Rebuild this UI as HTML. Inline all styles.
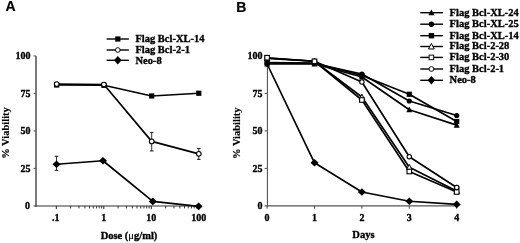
<!DOCTYPE html>
<html><head><meta charset="utf-8"><style>
html,body{margin:0;padding:0;background:#fff;}
svg{display:block;will-change:transform;}
text{font-family:"Liberation Serif",serif;font-weight:bold;fill:#000;stroke:#000;stroke-width:0.35px;}
.yl{stroke-width:0.15px;}
.sans{font-family:"Liberation Sans",sans-serif;stroke-width:0.2px;}
</style></head><body>
<svg width="520" height="243" viewBox="0 0 520 243">

<line x1="36.00" y1="55.90" x2="36.00" y2="206.80" stroke="#333" stroke-width="1.3"/>
<line x1="33.50" y1="206.00" x2="199.30" y2="206.00" stroke="#333" stroke-width="1.2"/>
<line x1="33.50" y1="55.90" x2="36.00" y2="55.90" stroke="#555" stroke-width="1.0"/>
<line x1="33.50" y1="93.40" x2="36.00" y2="93.40" stroke="#555" stroke-width="1.0"/>
<line x1="33.50" y1="130.90" x2="36.00" y2="130.90" stroke="#555" stroke-width="1.0"/>
<line x1="33.50" y1="168.40" x2="36.00" y2="168.40" stroke="#555" stroke-width="1.0"/>
<line x1="56.30" y1="205.90" x2="56.30" y2="209.10" stroke="#222" stroke-width="1.0"/>
<line x1="70.60" y1="205.90" x2="70.60" y2="208.40" stroke="#333" stroke-width="1.0"/>
<line x1="78.96" y1="205.90" x2="78.96" y2="208.40" stroke="#333" stroke-width="1.0"/>
<line x1="84.90" y1="205.90" x2="84.90" y2="208.40" stroke="#333" stroke-width="1.0"/>
<line x1="89.50" y1="205.90" x2="89.50" y2="208.40" stroke="#333" stroke-width="1.0"/>
<line x1="93.26" y1="205.90" x2="93.26" y2="208.40" stroke="#333" stroke-width="1.0"/>
<line x1="96.44" y1="205.90" x2="96.44" y2="208.40" stroke="#333" stroke-width="1.0"/>
<line x1="99.20" y1="205.90" x2="99.20" y2="208.40" stroke="#333" stroke-width="1.0"/>
<line x1="101.63" y1="205.90" x2="101.63" y2="208.40" stroke="#333" stroke-width="1.0"/>
<line x1="103.80" y1="205.90" x2="103.80" y2="209.10" stroke="#222" stroke-width="1.0"/>
<line x1="118.10" y1="205.90" x2="118.10" y2="208.40" stroke="#333" stroke-width="1.0"/>
<line x1="126.46" y1="205.90" x2="126.46" y2="208.40" stroke="#333" stroke-width="1.0"/>
<line x1="132.40" y1="205.90" x2="132.40" y2="208.40" stroke="#333" stroke-width="1.0"/>
<line x1="137.00" y1="205.90" x2="137.00" y2="208.40" stroke="#333" stroke-width="1.0"/>
<line x1="140.76" y1="205.90" x2="140.76" y2="208.40" stroke="#333" stroke-width="1.0"/>
<line x1="143.94" y1="205.90" x2="143.94" y2="208.40" stroke="#333" stroke-width="1.0"/>
<line x1="146.70" y1="205.90" x2="146.70" y2="208.40" stroke="#333" stroke-width="1.0"/>
<line x1="149.13" y1="205.90" x2="149.13" y2="208.40" stroke="#333" stroke-width="1.0"/>
<line x1="151.30" y1="205.90" x2="151.30" y2="209.10" stroke="#222" stroke-width="1.0"/>
<line x1="165.60" y1="205.90" x2="165.60" y2="208.40" stroke="#333" stroke-width="1.0"/>
<line x1="173.96" y1="205.90" x2="173.96" y2="208.40" stroke="#333" stroke-width="1.0"/>
<line x1="179.90" y1="205.90" x2="179.90" y2="208.40" stroke="#333" stroke-width="1.0"/>
<line x1="184.50" y1="205.90" x2="184.50" y2="208.40" stroke="#333" stroke-width="1.0"/>
<line x1="188.26" y1="205.90" x2="188.26" y2="208.40" stroke="#333" stroke-width="1.0"/>
<line x1="191.44" y1="205.90" x2="191.44" y2="208.40" stroke="#333" stroke-width="1.0"/>
<line x1="194.20" y1="205.90" x2="194.20" y2="208.40" stroke="#333" stroke-width="1.0"/>
<line x1="196.63" y1="205.90" x2="196.63" y2="208.40" stroke="#333" stroke-width="1.0"/>
<line x1="198.80" y1="205.90" x2="198.80" y2="209.10" stroke="#222" stroke-width="1.0"/>
<text x="30.40" y="59.20" font-size="10" text-anchor="end" >100</text>
<text x="30.40" y="96.70" font-size="10" text-anchor="end" >75</text>
<text x="30.40" y="134.20" font-size="10" text-anchor="end" >50</text>
<text x="30.40" y="171.70" font-size="10" text-anchor="end" >25</text>
<text x="29.90" y="209.20" font-size="10" text-anchor="end" >0</text>
<text x="55.70" y="221.20" font-size="10" text-anchor="middle" >.1</text>
<text x="103.80" y="221.20" font-size="10" text-anchor="middle" >1</text>
<text x="151.30" y="221.20" font-size="10" text-anchor="middle" >10</text>
<text x="198.80" y="221.20" font-size="10" text-anchor="middle" >100</text>
<text x="129.00" y="239.40" font-size="10.5" text-anchor="middle" >Dose (<tspan style="font-weight:normal;stroke-width:0.2px">μ</tspan>g/ml)</text>
<text transform="translate(8.6,133) rotate(-90)" font-size="10.5" text-anchor="middle" class="yl">% Viability</text>
<line x1="56.50" y1="156.30" x2="56.50" y2="170.40" stroke="#333" stroke-width="1.0"/>
<line x1="54.70" y1="156.30" x2="58.30" y2="156.30" stroke="#333" stroke-width="1.2"/>
<line x1="54.70" y1="170.40" x2="58.30" y2="170.40" stroke="#333" stroke-width="1.2"/>
<line x1="151.70" y1="132.50" x2="151.70" y2="150.90" stroke="#333" stroke-width="1.0"/>
<line x1="149.90" y1="132.50" x2="153.50" y2="132.50" stroke="#333" stroke-width="1.2"/>
<line x1="149.90" y1="150.90" x2="153.50" y2="150.90" stroke="#333" stroke-width="1.2"/>
<line x1="198.80" y1="148.50" x2="198.80" y2="159.40" stroke="#333" stroke-width="1.0"/>
<line x1="197.00" y1="148.50" x2="200.60" y2="148.50" stroke="#333" stroke-width="1.2"/>
<line x1="197.00" y1="159.40" x2="200.60" y2="159.40" stroke="#333" stroke-width="1.2"/>
<polyline points="56.50,164.20 103.00,160.75 152.80,201.40 198.60,206.35" fill="none" stroke="#000" stroke-width="1.65" stroke-linejoin="round"/>
<polyline points="56.70,85.00 103.90,85.30 151.70,95.95 198.80,93.25" fill="none" stroke="#000" stroke-width="1.65" stroke-linejoin="round"/>
<polyline points="56.70,84.10 103.90,84.55 151.70,141.40 198.80,153.85" fill="none" stroke="#000" stroke-width="1.65" stroke-linejoin="round"/>
<rect x="54.10" y="82.40" width="5.2" height="5.2" fill="#000" stroke="#000" stroke-width="0"/>
<rect x="101.30" y="82.70" width="5.2" height="5.2" fill="#000" stroke="#000" stroke-width="0"/>
<rect x="149.10" y="93.35" width="5.2" height="5.2" fill="#000" stroke="#000" stroke-width="0"/>
<rect x="196.20" y="90.65" width="5.2" height="5.2" fill="#000" stroke="#000" stroke-width="0"/>
<circle cx="56.70" cy="84.10" r="2.35" fill="#fff" stroke="#000" stroke-width="1.1"/>
<circle cx="103.90" cy="84.55" r="2.35" fill="#fff" stroke="#000" stroke-width="1.1"/>
<circle cx="151.70" cy="141.40" r="2.35" fill="#fff" stroke="#000" stroke-width="1.1"/>
<circle cx="198.80" cy="153.85" r="2.35" fill="#fff" stroke="#000" stroke-width="1.1"/>
<path d="M52.50 164.20L56.50 160.40L60.50 164.20L56.50 168.00Z" fill="#000"/>
<path d="M99.00 160.75L103.00 156.95L107.00 160.75L103.00 164.55Z" fill="#000"/>
<path d="M148.80 201.40L152.80 197.60L156.80 201.40L152.80 205.20Z" fill="#000"/>
<path d="M194.60 206.35L198.60 202.55L202.60 206.35L198.60 210.15Z" fill="#000"/>
<line x1="106.60" y1="39.00" x2="128.90" y2="39.00" stroke="#000" stroke-width="1.4"/>
<rect x="115.20" y="36.40" width="5.2" height="5.2" fill="#000" stroke="#000" stroke-width="0"/>
<text x="135.40" y="41.80" font-size="10.5" text-anchor="start" >Flag Bcl-XL-14</text>
<line x1="106.60" y1="50.00" x2="128.90" y2="50.00" stroke="#000" stroke-width="1.4"/>
<circle cx="117.80" cy="50.00" r="2.35" fill="#fff" stroke="#000" stroke-width="0.95"/>
<text x="135.40" y="52.60" font-size="10.5" text-anchor="start" >Flag Bcl-2-1</text>
<line x1="106.60" y1="60.30" x2="128.90" y2="60.30" stroke="#000" stroke-width="1.4"/>
<path d="M114.00 60.30L117.80 56.10L121.60 60.30L117.80 64.50Z" fill="#000"/>
<text x="135.40" y="64.00" font-size="10.5" text-anchor="start" >Neo-8</text>
<text x="5.40" y="11.20" font-size="14" text-anchor="start" class="sans">A</text>
<line x1="267.40" y1="55.90" x2="267.40" y2="206.40" stroke="#444" stroke-width="1.0"/>
<line x1="264.60" y1="205.90" x2="457.20" y2="205.90" stroke="#555" stroke-width="1.1"/>
<line x1="264.60" y1="55.90" x2="267.10" y2="55.90" stroke="#555" stroke-width="1.0"/>
<line x1="264.60" y1="93.40" x2="267.10" y2="93.40" stroke="#555" stroke-width="1.0"/>
<line x1="264.60" y1="130.90" x2="267.10" y2="130.90" stroke="#555" stroke-width="1.0"/>
<line x1="264.60" y1="168.40" x2="267.10" y2="168.40" stroke="#555" stroke-width="1.0"/>
<line x1="267.10" y1="205.90" x2="267.10" y2="208.70" stroke="#444" stroke-width="1.0"/>
<line x1="314.50" y1="205.90" x2="314.50" y2="208.70" stroke="#444" stroke-width="1.0"/>
<line x1="361.90" y1="205.90" x2="361.90" y2="208.70" stroke="#444" stroke-width="1.0"/>
<line x1="409.30" y1="205.90" x2="409.30" y2="208.70" stroke="#444" stroke-width="1.0"/>
<line x1="456.70" y1="205.90" x2="456.70" y2="208.70" stroke="#444" stroke-width="1.0"/>
<text x="262.60" y="59.20" font-size="10" text-anchor="end" >100</text>
<text x="262.60" y="96.70" font-size="10" text-anchor="end" >75</text>
<text x="262.60" y="134.20" font-size="10" text-anchor="end" >50</text>
<text x="262.60" y="171.70" font-size="10" text-anchor="end" >25</text>
<text x="262.60" y="209.20" font-size="10" text-anchor="end" >0</text>
<text x="267.10" y="221.20" font-size="10" text-anchor="middle" >0</text>
<text x="314.50" y="221.20" font-size="10" text-anchor="middle" >1</text>
<text x="361.90" y="221.20" font-size="10" text-anchor="middle" >2</text>
<text x="409.30" y="221.20" font-size="10" text-anchor="middle" >3</text>
<text x="456.70" y="221.20" font-size="10" text-anchor="middle" >4</text>
<text x="363.40" y="238.20" font-size="10.5" text-anchor="middle" >Days</text>
<text transform="translate(240.2,133.2) rotate(-90)" font-size="10.5" text-anchor="middle" class="yl">% Viability</text>
<polyline points="267.10,64.00 314.50,162.80 361.90,192.00 409.30,201.25 456.70,204.40" fill="none" stroke="#000" stroke-width="1.65" stroke-linejoin="round"/>
<polyline points="267.10,64.00 314.50,64.00 361.90,77.00 409.30,109.70 456.70,125.10" fill="none" stroke="#000" stroke-width="1.65" stroke-linejoin="round"/>
<polyline points="267.10,63.00 314.50,63.50 361.90,74.00 409.30,101.00 456.70,115.50" fill="none" stroke="#000" stroke-width="1.65" stroke-linejoin="round"/>
<polyline points="267.10,62.50 314.50,63.00 361.90,75.50 409.30,94.30 456.70,121.50" fill="none" stroke="#000" stroke-width="1.65" stroke-linejoin="round"/>
<polyline points="267.10,58.50 314.50,61.30 361.90,97.00 409.30,167.20 456.70,191.00" fill="none" stroke="#000" stroke-width="1.65" stroke-linejoin="round"/>
<polyline points="267.10,57.70 314.50,61.30 361.90,100.00 409.30,171.50 456.70,192.00" fill="none" stroke="#000" stroke-width="1.65" stroke-linejoin="round"/>
<polyline points="267.10,58.00 314.50,61.30 361.90,82.00 409.30,156.70 456.70,187.50" fill="none" stroke="#000" stroke-width="1.65" stroke-linejoin="round"/>
<path d="M264.40 64.00L267.10 60.50L269.80 64.00L267.10 67.50Z" fill="#000"/>
<path d="M310.50 162.80L314.50 159.00L318.50 162.80L314.50 166.60Z" fill="#000"/>
<path d="M357.90 192.00L361.90 188.20L365.90 192.00L361.90 195.80Z" fill="#000"/>
<path d="M405.30 201.25L409.30 197.45L413.30 201.25L409.30 205.05Z" fill="#000"/>
<path d="M452.70 204.40L456.70 200.60L460.70 204.40L456.70 208.20Z" fill="#000"/>
<path d="M267.10 60.87L270.10 66.56L264.10 66.56Z" fill="#000"/>
<path d="M314.50 60.87L317.50 66.56L311.50 66.56Z" fill="#000"/>
<path d="M361.90 73.86L364.90 79.56L358.90 79.56Z" fill="#000"/>
<path d="M409.30 106.56L412.30 112.27L406.30 112.27Z" fill="#000"/>
<path d="M456.70 121.96L459.70 127.66L453.70 127.66Z" fill="#000"/>
<rect x="264.50" y="59.90" width="5.2" height="5.2" fill="#000" stroke="#000" stroke-width="0"/>
<rect x="311.90" y="60.40" width="5.2" height="5.2" fill="#000" stroke="#000" stroke-width="0"/>
<rect x="359.30" y="72.90" width="5.2" height="5.2" fill="#000" stroke="#000" stroke-width="0"/>
<rect x="406.70" y="91.70" width="5.2" height="5.2" fill="#000" stroke="#000" stroke-width="0"/>
<rect x="454.10" y="118.90" width="5.2" height="5.2" fill="#000" stroke="#000" stroke-width="0"/>
<circle cx="267.10" cy="63.00" r="2.6" fill="#000"/>
<circle cx="314.50" cy="63.50" r="2.6" fill="#000"/>
<circle cx="361.90" cy="74.00" r="2.6" fill="#000"/>
<circle cx="409.30" cy="101.00" r="2.6" fill="#000"/>
<circle cx="456.70" cy="115.50" r="2.6" fill="#000"/>
<path d="M267.10 55.68L269.80 60.81L264.40 60.81Z" fill="#fff" stroke="#000" stroke-width="1"/>
<path d="M314.50 58.48L317.20 63.61L311.80 63.61Z" fill="#fff" stroke="#000" stroke-width="1"/>
<path d="M361.90 94.18L364.60 99.31L359.20 99.31Z" fill="#fff" stroke="#000" stroke-width="1"/>
<path d="M409.30 164.38L412.00 169.51L406.60 169.51Z" fill="#fff" stroke="#000" stroke-width="1"/>
<path d="M456.70 188.18L459.40 193.31L454.00 193.31Z" fill="#fff" stroke="#000" stroke-width="1"/>
<circle cx="267.10" cy="58.00" r="2.2" fill="#fff" stroke="#000" stroke-width="1.1"/>
<circle cx="314.50" cy="61.30" r="2.2" fill="#fff" stroke="#000" stroke-width="1.1"/>
<circle cx="361.90" cy="82.00" r="2.2" fill="#fff" stroke="#000" stroke-width="1.1"/>
<circle cx="409.30" cy="156.70" r="2.2" fill="#fff" stroke="#000" stroke-width="1.1"/>
<circle cx="456.70" cy="187.50" r="2.2" fill="#fff" stroke="#000" stroke-width="1.1"/>
<rect x="264.80" y="55.40" width="4.6" height="4.6" fill="#fff" stroke="#000" stroke-width="1.1"/>
<rect x="312.20" y="59.00" width="4.6" height="4.6" fill="#fff" stroke="#000" stroke-width="1.1"/>
<rect x="359.60" y="97.70" width="4.6" height="4.6" fill="#fff" stroke="#000" stroke-width="1.1"/>
<rect x="407.00" y="169.20" width="4.6" height="4.6" fill="#fff" stroke="#000" stroke-width="1.1"/>
<rect x="454.40" y="189.70" width="4.6" height="4.6" fill="#fff" stroke="#000" stroke-width="1.1"/>
<circle cx="456.70" cy="187.50" r="2.2" fill="#fff" stroke="#000" stroke-width="1.1"/>
<line x1="420.30" y1="12.70" x2="443.00" y2="12.70" stroke="#000" stroke-width="1.4"/>
<path d="M431.40 9.46L434.50 15.35L428.30 15.35Z" fill="#000"/>
<text x="449.60" y="15.50" font-size="10.5" text-anchor="start" >Flag Bcl-XL-24</text>
<line x1="420.30" y1="24.20" x2="443.00" y2="24.20" stroke="#000" stroke-width="1.4"/>
<circle cx="431.40" cy="24.20" r="2.7" fill="#000"/>
<text x="449.60" y="27.00" font-size="10.5" text-anchor="start" >Flag Bcl-XL-25</text>
<line x1="420.30" y1="35.70" x2="443.00" y2="35.70" stroke="#000" stroke-width="1.4"/>
<rect x="428.70" y="33.00" width="5.4" height="5.4" fill="#000" stroke="#000" stroke-width="0"/>
<text x="449.60" y="38.50" font-size="10.5" text-anchor="start" >Flag Bcl-XL-14</text>
<line x1="420.30" y1="46.50" x2="443.00" y2="46.50" stroke="#000" stroke-width="1.4"/>
<path d="M431.40 43.47L434.30 48.98L428.50 48.98Z" fill="#fff" stroke="#000" stroke-width="1"/>
<text x="449.60" y="49.30" font-size="10.5" text-anchor="start" >Flag Bcl-2-28</text>
<line x1="420.30" y1="57.40" x2="443.00" y2="57.40" stroke="#000" stroke-width="1.4"/>
<rect x="429.10" y="55.10" width="4.6" height="4.6" fill="#fff" stroke="#000" stroke-width="0.95"/>
<text x="449.60" y="60.20" font-size="10.5" text-anchor="start" >Flag Bcl-2-30</text>
<line x1="420.30" y1="69.00" x2="443.00" y2="69.00" stroke="#000" stroke-width="1.4"/>
<circle cx="431.40" cy="69.00" r="2.4" fill="#fff" stroke="#000" stroke-width="0.95"/>
<text x="449.60" y="71.80" font-size="10.5" text-anchor="start" >Flag Bcl-2-1</text>
<line x1="420.30" y1="80.30" x2="443.00" y2="80.30" stroke="#000" stroke-width="1.4"/>
<path d="M427.60 80.30L431.40 76.10L435.20 80.30L431.40 84.50Z" fill="#000"/>
<text x="449.60" y="83.10" font-size="10.5" text-anchor="start" >Neo-8</text>
<text x="236.20" y="12.10" font-size="14" text-anchor="start" class="sans">B</text>
</svg>
</body></html>
